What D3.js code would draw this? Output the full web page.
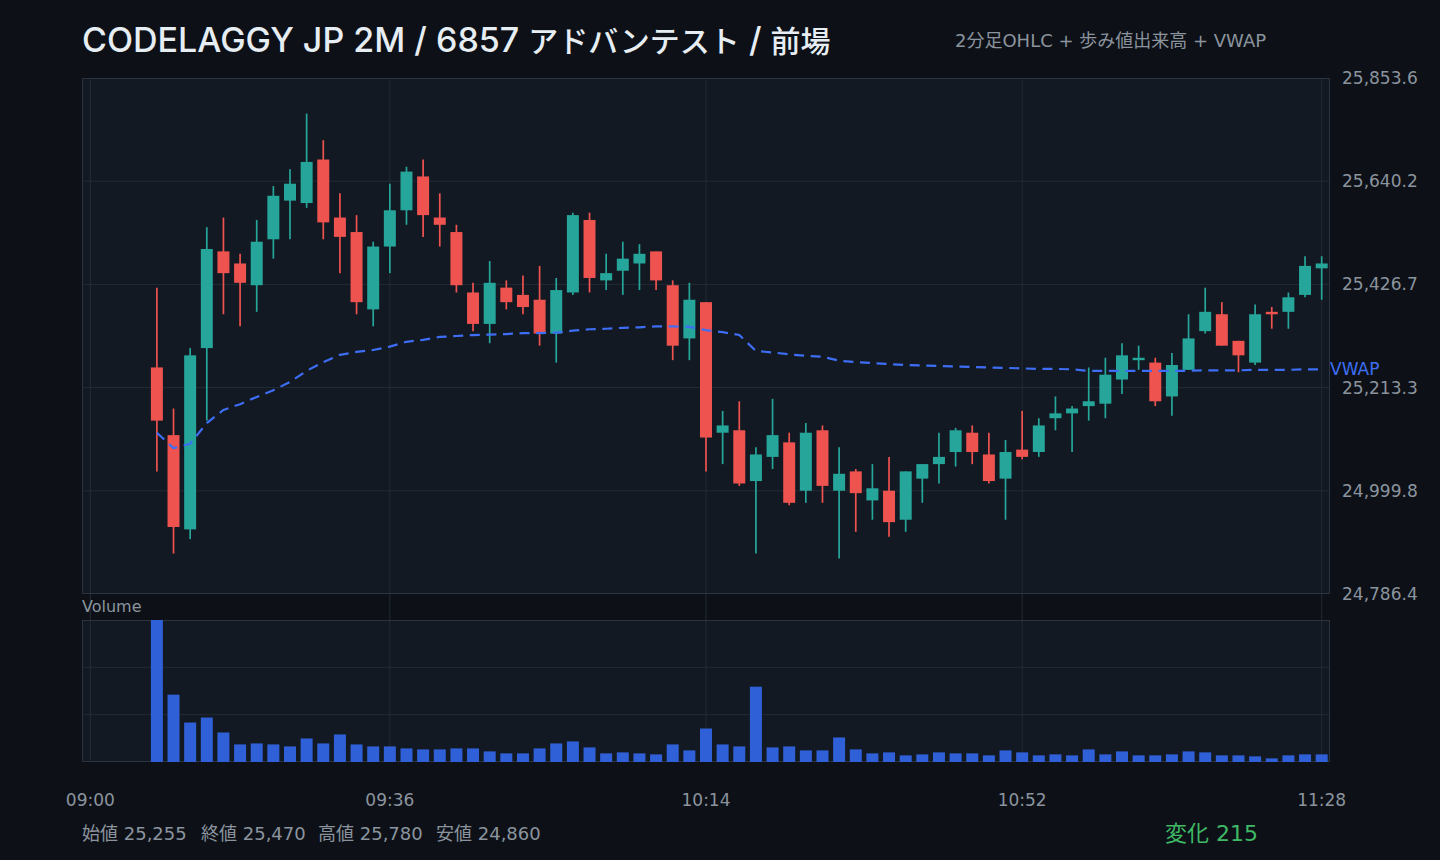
<!DOCTYPE html>
<html><head><meta charset="utf-8">
<script src="https://cdn.jsdelivr.net/npm/d3@7"></script>
<style>
html,body{margin:0;padding:0;background:#0d1117;}
svg{display:block;font-family:"DejaVu Sans","Noto Sans CJK JP",sans-serif;}
</style></head><body>
<svg id="chart" width="1440" height="860"></svg>
<script>
const times = ["09:08","09:10","09:12","09:14","09:16","09:18","09:20","09:22","09:24","09:26",
"09:28","09:30","09:32","09:34","09:36","09:38","09:40","09:42","09:44","09:46",
"09:48","09:50","09:52","09:54","09:56","09:58","10:00","10:02","10:04","10:06",
"10:08","10:10","10:12","10:14","10:16","10:18","10:20","10:22","10:24","10:26",
"10:28","10:30","10:32","10:34","10:36","10:38","10:40","10:42","10:44","10:46",
"10:48","10:50","10:52","10:54","10:56","10:58","11:00","11:02","11:04","11:06",
"11:08","11:10","11:12","11:14","11:16","11:18","11:20","11:22","11:24","11:26","11:28"];
const open  = [25255,25115,24920,25295,25495,25470,25425,25520,25600,25595,
25685,25565,25535,25375,25505,25580,25650,25565,25535,25410,
25345,25420,25405,25395,25325,25410,25560,25435,25455,25470,
25495,25425,25315,25390,25120,25125,25020,25070,25100,25000,
25125,25000,25040,24980,25000,24940,25025,25055,25080,25120,
25075,25025,25085,25080,25150,25160,25175,25180,25230,25270,
25265,25195,25250,25330,25365,25310,25265,25370,25370,25405,25460];
const high  = [25420,25170,25295,25545,25565,25490,25560,25630,25665,25780,
25725,25615,25570,25515,25635,25670,25685,25615,25550,25430,
25475,25435,25445,25465,25440,25575,25575,25490,25515,25510,
25495,25435,25430,25390,25165,25185,25090,25190,25120,25140,
25135,25090,25045,25055,25070,25040,25055,25120,25130,25135,
25120,25105,25165,25150,25195,25175,25255,25275,25305,25300,
25275,25285,25365,25420,25390,25310,25385,25380,25410,25485,25485];
const low   = [25040,24870,24900,25145,25365,25340,25370,25480,25520,25585,
25520,25450,25365,25340,25450,25550,25525,25505,25410,25330,
25305,25375,25365,25300,25265,25405,25410,25415,25405,25415,
25415,25270,25270,25040,25055,25010,24870,25045,24970,24975,
24975,24860,24915,24940,24905,24915,24975,25015,25050,25055,
25015,24940,25065,25070,25125,25080,25145,25150,25200,25250,
25175,25155,25250,25325,25300,25245,25260,25335,25335,25400,25395];
const close = [25145,24925,25280,25500,25450,25430,25515,25610,25635,25680,
25555,25525,25390,25505,25580,25660,25570,25550,25425,25345,
25430,25390,25380,25325,25415,25570,25440,25450,25480,25490,
25435,25300,25395,25110,25135,25015,25075,25115,24975,25120,
25010,25035,24995,25005,24935,25040,25055,25070,25125,25080,
25020,25080,25070,25135,25160,25170,25185,25240,25280,25275,
25185,25260,25315,25370,25300,25280,25365,25365,25400,25465,25470];
const volume = [856,406,238,268,178,106,112,106,94,142,
112,166,106,94,94,82,76,76,82,82,
64,52,52,82,112,124,88,52,58,52,
46,106,70,202,106,94,454,88,94,70,
70,148,76,52,58,40,46,58,52,52,
40,70,58,40,46,40,76,46,64,40,
40,46,64,58,40,40,34,22,40,46,46];
const vwap = [25120,25088,25097,25140,25167,25179,25194,25208,25225,25248,
25266,25281,25287,25291,25298,25308,25312,25318,25320,25322,
25323,25324,25326,25326,25327,25331,25334,25335,25337,25338,
25340,25340,25339,25332,25328,25322,25289,25286,25282,25279,
25277,25269,25266,25264,25262,25260,25259,25258,25257,25256,
25255,25254,25253,25252,25252,25251,25248,25248,25248,25248,
25248,25248,25248,25249,25249,25249,25250,25250,25250,25251,25251];
const xTickLabels = ["09:00","09:36","10:14","10:52","11:28"];
const yTickValues = [25853.6,25640.2,25426.7,25213.3,24999.8,24786.4];
const titleParts = [
  {text:"CODELAGGY JP 2M / 6857 ", latin:true},
  {text:"アドバンテスト", latin:false},
  {text:" / ", latin:true},
  {text:"前場", latin:false}];
const subtitle = "2分足OHLC + 歩み値出来高 + VWAP";
const statLabels = ["始値","終値","高値","安値"];
const statValues = [25255,25470,25780,24860];
const changeValue = 215;

const C = {bg:"#0d1117", panel:"#121922", grid:"#232b35", border:"#2c343f",
  up:"#26a69a", down:"#ef5350", vwap:"#3d6ef5", vol:"#2f60d8",
  text:"#e6edf3", muted:"#8b949e", green:"#3fb966"};

const svg = d3.select("#chart");
svg.append("rect").attr("width",1440).attr("height",860).attr("fill",C.bg);

const L = 82, R = 1330, PT = 78, PB = 594, VT = 620, VB = 762;

const slots = d3.range(75).map(i => {const m = 540 + 2*i; return d3.format("02")(Math.floor(m/60)) + ":" + d3.format("02")(m%60);});
const x = d3.scaleBand().domain(slots).range([L,R]).paddingInner(0.28).paddingOuter(0.14);
const cx = t => x(t) + x.bandwidth()/2;
const y = d3.scaleLinear().domain([24786.4,25853.6]).range([PB,PT]);
const yv = d3.scaleLinear().domain([0,d3.max(volume)]).range([VB,VT]);

svg.append("rect").attr("x",L).attr("y",PT).attr("width",R-L).attr("height",PB-PT).attr("fill",C.panel);
svg.append("rect").attr("x",L).attr("y",VT).attr("width",R-L).attr("height",VB-VT).attr("fill",C.panel);

const g = svg.append("g");
g.selectAll(".hg").data(yTickValues.slice(1,-1)).join("line")
  .attr("x1",L).attr("x2",R).attr("y1",d=>y(d)).attr("y2",d=>y(d))
  .attr("stroke",C.grid).attr("stroke-width",1);
const vmax = d3.max(volume);
g.selectAll(".vg").data([vmax/3, 2*vmax/3]).join("line")
  .attr("x1",L).attr("x2",R).attr("y1",d=>yv(d)).attr("y2",d=>yv(d))
  .attr("stroke",C.grid).attr("stroke-width",1);
g.selectAll(".xg").data(xTickLabels).join("line")
  .attr("x1",d=>cx(d)).attr("x2",d=>cx(d)).attr("y1",PT).attr("y2",VB)
  .attr("stroke",C.grid).attr("stroke-width",1);
svg.append("rect").attr("x",L+0.5).attr("y",PT+0.5).attr("width",R-L-1).attr("height",PB-PT-1)
  .attr("fill","none").attr("stroke",C.border);
svg.append("rect").attr("x",L+0.5).attr("y",VT+0.5).attr("width",R-L-1).attr("height",VB-VT-1)
  .attr("fill","none").attr("stroke",C.border);

const data = times.map((t,i)=>({t,o:open[i],h:high[i],l:low[i],c:close[i],v:volume[i],w:vwap[i]}));
const cg = svg.append("g");
const col = d => d.c >= d.o ? C.up : C.down;
cg.selectAll(".wick").data(data).join("line")
  .attr("x1",d=>cx(d.t)).attr("x2",d=>cx(d.t)).attr("y1",d=>y(d.h)).attr("y2",d=>y(d.l))
  .attr("stroke",col).attr("stroke-width",1.7);
cg.selectAll(".body").data(data).join("rect")
  .attr("x",d=>x(d.t)).attr("width",x.bandwidth())
  .attr("y",d=>y(Math.max(d.o,d.c)))
  .attr("height",d=>Math.max(1.5, Math.abs(y(d.o)-y(d.c))))
  .attr("fill",col);

const line = d3.line().x(d=>cx(d.t)).y(d=>y(d.w));
svg.append("path").datum(data).attr("d",line).attr("fill","none")
  .attr("stroke",C.vwap).attr("stroke-width",2.2).attr("stroke-dasharray","10,6.6");
const last = data[data.length-1];
svg.append("text").attr("x",R).attr("y",y(last.w)).attr("dominant-baseline","central")
  .attr("font-size",17).attr("fill",C.vwap).text("VWAP");

svg.append("g").selectAll("rect").data(data).join("rect")
  .attr("x",d=>x(d.t)).attr("width",x.bandwidth())
  .attr("y",d=>yv(d.v)).attr("height",d=>VB-yv(d.v)).attr("fill",C.vol);

const fmt = d3.format(",.1f");
svg.append("g").selectAll("text").data(yTickValues).join("text")
  .attr("x",1342).attr("y",d=>y(d)).attr("dominant-baseline","central")
  .attr("font-size",17).attr("fill",C.muted).text(d=>fmt(d));
svg.append("g").selectAll("text").data(xTickLabels).join("text")
  .attr("x",d=>cx(d)).attr("y",800).attr("dominant-baseline","central").attr("text-anchor","middle")
  .attr("font-size",17).attr("fill",C.muted).text(d=>d);

const title = svg.append("text").attr("x",82).attr("y",52).attr("fill",C.text);
title.selectAll("tspan").data(titleParts).join("tspan")
  .attr("font-size",d=>d.latin?34:30).attr("font-weight",500)
  .attr("font-family",d=>d.latin?"Inter":"Noto Sans CJK JP")
  .style("white-space","pre").text(d=>d.text);
svg.append("text").attr("x",955).attr("y",47).attr("font-size",18)
  .attr("fill",C.muted).text(subtitle);
svg.append("text").attr("x",82).attr("y",612).attr("font-size",16)
  .attr("fill",C.muted).text("Volume");

const fmt0 = d3.format(",");
const stx = [82,201,318,436];
svg.append("g").selectAll("text").data(statLabels).join("text")
  .attr("x",(d,i)=>stx[i]).attr("y",833).attr("dominant-baseline","central")
  .attr("font-size",18).attr("fill",C.muted).text((d,i)=>d+" "+fmt0(statValues[i]));
svg.append("text").attr("x",1258).attr("y",833).attr("dominant-baseline","central").attr("text-anchor","end")
  .attr("font-size",22).attr("fill",C.green).text("変化 " + changeValue);
</script>
</body></html>
